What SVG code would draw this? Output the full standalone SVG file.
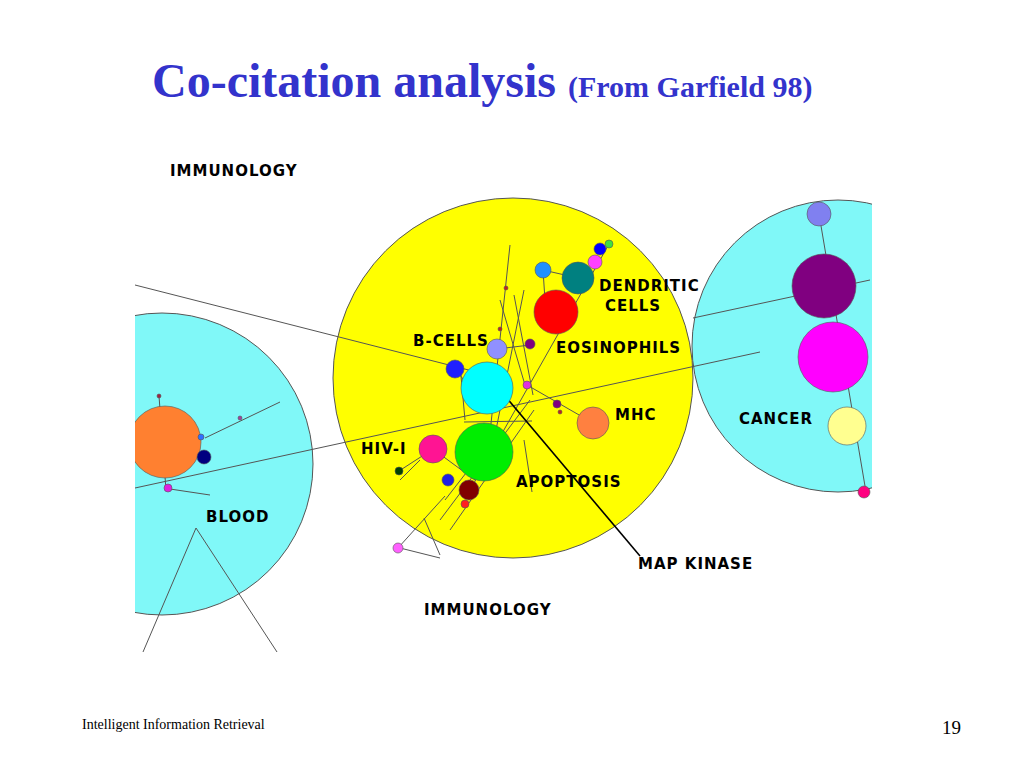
<svg xmlns="http://www.w3.org/2000/svg" width="1024" height="768" viewBox="0 0 1024 768">
<style>
.t{font-family:"Liberation Serif",serif;font-weight:bold;fill:#3333cc}
.l{font-family:"DejaVu Sans",sans-serif;font-weight:bold;font-size:15px;fill:#000;letter-spacing:1px}
.e line,.e polyline{stroke:#555;stroke-width:1;fill:none}
.y line{stroke:#6b6b00;stroke-width:1}
.n{stroke:#555;stroke-width:0.6}
</style>
<defs><clipPath id="c"><rect x="135" y="140" width="737" height="515"/></clipPath></defs>
<rect width="1024" height="768" fill="#fff"/>
<text x="152" y="97" class="t" font-size="48">Co-citation analysis <tspan font-size="30">(From Garfield 98)</tspan></text>
<g clip-path="url(#c)">
<g id="blood"><circle cx="162" cy="464" r="151" fill="#80f8f8" stroke="#555"/></g>
<g id="cancer"><circle cx="838" cy="346" r="146" fill="#80f8f8" stroke="#555"/></g>
<g id="immunology"><circle cx="513" cy="378" r="180" fill="#ffff00" stroke="#555"/></g>
<g class="e" id="connectors">
<line x1="135" y1="285" x2="500" y2="378"/>
<line x1="135" y1="488" x2="760" y2="352"/>
<line x1="196" y1="528" x2="143" y2="652"/>
<line x1="196" y1="528" x2="277" y2="652"/>
<line x1="205" y1="438" x2="280" y2="402"/>
<line x1="170" y1="489" x2="210" y2="495"/>
<line x1="159" y1="396" x2="166" y2="490"/>
<line x1="135" y1="445" x2="204" y2="458"/>
<line x1="165" y1="442" x2="204" y2="457"/>
<line x1="819" y1="214" x2="866" y2="492"/>
<line x1="693" y1="318" x2="870" y2="280"/>
<line x1="609" y1="244" x2="470" y2="490"/>
<line x1="543" y1="270" x2="545" y2="300"/>
<line x1="543" y1="270" x2="578" y2="278"/>
<line x1="455" y1="369" x2="480" y2="400"/>
<line x1="527" y1="385" x2="593" y2="423"/>
<line x1="510" y1="245" x2="485" y2="480"/>
<line x1="524" y1="290" x2="494" y2="440"/>
<line x1="500" y1="300" x2="525" y2="385"/>
<line x1="514" y1="295" x2="533" y2="395"/>
<line x1="433" y1="449" x2="399" y2="471"/>
<line x1="433" y1="449" x2="475" y2="480"/>
<line x1="420" y1="460" x2="400" y2="480"/>
<line x1="530" y1="400" x2="440" y2="520"/>
<line x1="534" y1="410" x2="450" y2="530"/>
<line x1="398" y1="548" x2="445" y2="496"/>
<line x1="424" y1="518" x2="440" y2="555"/>
<line x1="400" y1="548" x2="440" y2="558"/>
<line x1="464" y1="422" x2="532" y2="421"/>
<line x1="524" y1="440" x2="532" y2="492"/>
<line x1="497" y1="349" x2="530" y2="345"/>
<line x1="460" y1="365" x2="465" y2="420"/>
<line x1="445" y1="500" x2="480" y2="455"/>
</g>
<line x1="505" y1="396" x2="640" y2="556" stroke="#000" stroke-width="1.6"/>
<g id="nodes" class="n">
<circle cx="165" cy="442" r="36" fill="#ff8030"/>
<circle cx="201" cy="437" r="3" fill="#3070ff"/>
<circle cx="204" cy="457" r="7" fill="#000080"/>
<circle cx="168" cy="488" r="4" fill="#e020e0"/>
<circle cx="240" cy="418" r="2" fill="#a040a0"/>
<circle cx="159" cy="396" r="2" fill="#a02040"/>
<circle cx="819" cy="214" r="12" fill="#8080f0"/>
<circle cx="824" cy="286" r="32" fill="#800080"/>
<circle cx="833" cy="357" r="35" fill="#ff00ff"/>
<circle cx="847" cy="426" r="19" fill="#ffff90"/>
<circle cx="864" cy="492" r="6" fill="#ff0080"/>
<circle cx="487" cy="388" r="26" fill="#00ffff"/>
<circle cx="484" cy="452" r="29" fill="#00ee00"/>
<circle cx="556" cy="312" r="22" fill="#ff0000"/>
<circle cx="578" cy="278" r="16" fill="#008080"/>
<circle cx="543" cy="270" r="8" fill="#2090ff"/>
<circle cx="595" cy="262" r="7" fill="#ff40ff"/>
<circle cx="600" cy="249" r="6" fill="#0000ff"/>
<circle cx="609" cy="244" r="4" fill="#40e040"/>
<circle cx="497" cy="349" r="10" fill="#9090ff"/>
<circle cx="455" cy="369" r="9" fill="#2020ff"/>
<circle cx="530" cy="344" r="5" fill="#800080"/>
<circle cx="527" cy="385" r="4" fill="#e030e0"/>
<circle cx="557" cy="404" r="4" fill="#800080"/>
<circle cx="560" cy="412" r="2" fill="#c02020"/>
<circle cx="593" cy="423" r="16" fill="#ff8040"/>
<circle cx="433" cy="449" r="14" fill="#ff1493"/>
<circle cx="448" cy="480" r="6" fill="#2020e0"/>
<circle cx="469" cy="490" r="10" fill="#800000"/>
<circle cx="465" cy="504" r="4" fill="#ff2020"/>
<circle cx="399" cy="471" r="4" fill="#004000"/>
<circle cx="398" cy="548" r="5" fill="#ff60ff"/>
<circle cx="506" cy="288" r="2" fill="#c02020"/>
<circle cx="500" cy="329" r="2" fill="#c02020"/>
</g>
<g id="labels">
<text x="170" y="176" class="l" font-size="17">IMMUNOLOGY</text>
<text x="599" y="291" class="l">DENDRITIC</text>
<text x="605" y="311" class="l">CELLS</text>
<text x="413" y="346" class="l">B-CELLS</text>
<text x="556" y="353" class="l">EOSINOPHILS</text>
<text x="615" y="420" class="l">MHC</text>
<text x="739" y="424" class="l">CANCER</text>
<text x="361" y="454" class="l">HIV-I</text>
<text x="516" y="487" class="l">APOPTOSIS</text>
<text x="206" y="522" class="l">BLOOD</text>
<text x="638" y="569" class="l" font-size="12">MAP KINASE</text>
<text x="424" y="615" class="l">IMMUNOLOGY</text>
</g>
</g>
<text x="82" y="729" font-family="Liberation Serif,serif" font-size="14">Intelligent Information Retrieval</text>
<text x="942" y="734" font-family="Liberation Serif,serif" font-size="19">19</text>
</svg>
